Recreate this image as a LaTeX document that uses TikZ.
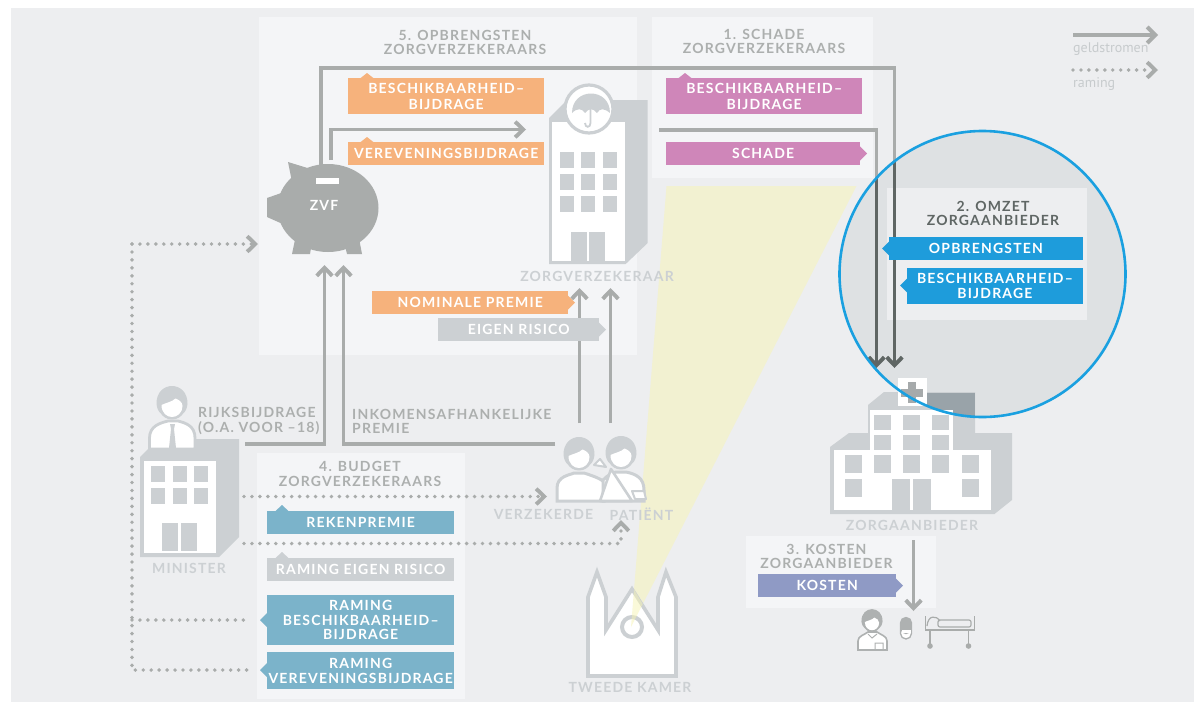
\documentclass[tikz,border=0pt]{standalone}
\usepackage{fontspec}
\usetikzlibrary{arrows.meta,calc}
\setmainfont{Lato}
\newfontfamily\latosp[LetterSpace=8.5]{Lato}
\newfontfamily\legendfont{PT Sans}
\definecolor{bgc}{HTML}{EDEEF0}
\definecolor{panelc}{HTML}{F4F5F7}
\definecolor{linec}{HTML}{A9ACAB}
\definecolor{darkc}{HTML}{5F6664}
\definecolor{iconc}{HTML}{CCD0D3}
\definecolor{titlec}{HTML}{ACAFAE}
\definecolor{orangec}{HTML}{F6B27C}
\definecolor{pinkc}{HTML}{CF86B9}
\definecolor{bluec}{HTML}{1E9CDB}
\definecolor{tealc}{HTML}{7BB3CA}
\definecolor{kostenc}{HTML}{8F9AC5}
\definecolor{ringc}{HTML}{1AA0E0}
\definecolor{circc}{HTML}{DEE1E3}
\definecolor{roofc}{HTML}{99A3A9}
\definecolor{beamc}{HTML}{F7F4B4}
\tikzset{
  panel/.style={fill=panelc,draw=none},
  flow/.style={draw=linec,line width=3.9pt,-{Straight Barb[length=8pt,width=15.5pt,line width=3.9pt]}},
  dotflow/.style={draw=linec,line width=3.9pt,line cap=round,dash pattern=on 0pt off 7.95pt},
  dottip/.style={-{Straight Barb[length=8pt,width=15.5pt,line width=3.9pt,line cap=butt]}},
  lab/.style={inner sep=0pt,align=center,font=\latosp\bfseries\fontsize{14}{14.5}\selectfont},
  wide/.style={font=\latosp\bfseries\fontsize{14}{16}\selectfont},
  lowtext/.style={text depth=-2pt},
  tagbox/.style={lab,text=white,anchor=north west,minimum height=#1},
  title/.style={lab,text=titlec},
  icontext/.style={lab,text=iconc},
}
\newcommand{\hd}[4]{% x y scale colour: head with hair
 \begin{scope}[shift={(#1,#2)},scale=#3]
  \fill[#4] (-15.5,2) .. controls (-16,-22) and (16,-22) .. (15.5,2) .. controls (15,7) and (13,10) .. (11.5,11) .. controls (9,15) and (5,17.5) .. (0,17.5) .. controls (-5,17.5) and (-9,15) .. (-11.5,11) .. controls (-13,10) and (-15,7) .. (-15.5,2) -- cycle;
  \fill[white] (-10.5,3) .. controls (-7,1) and (0,0) .. (3.5,-3.5) .. controls (7,-2) and (10.5,0) .. (10.5,4) .. controls (10.5,11) and (5,15) .. (0,15) .. controls (-5,15) and (-10.5,11) .. (-10.5,3) -- cycle;
 \end{scope}}
\begin{document}
\begin{tikzpicture}[x=1pt,y=-1pt]
\useasboundingbox (0,0) rectangle (1195,702);
\fill[white] (0,0) rectangle (1195,702);
\fill[bgc] (11,7.5) rectangle (1194,702);
% panels
\fill[panel] (259,17) rectangle (637,355);
\fill[panel] (652,17) rectangle (873,178);
\fill[panel] (257,453) rectangle (465,699);
\fill[panel] (745.5,536) rectangle (936,608);
% named connector ends
\coordinate (pigA) at (321,166);
\coordinate (pigB) at (331,160);
\coordinate (cA1) at (321,68);
\coordinate (cA2) at (894.5,68);
\coordinate (hospA) at (894.5,368);
\coordinate (cB1) at (331,129.5);
\coordinate (zvB) at (526,129.5);
\coordinate (zvC) at (659,130);
\coordinate (cC1) at (876.5,130);
\coordinate (hospC) at (876.5,368);
\coordinate (minR) at (245,444);
\coordinate (cD1) at (324.5,444);
\coordinate (pigD) at (324.5,265);
\coordinate (verzE) at (555,444);
\coordinate (cE1) at (343.5,444);
\coordinate (pigE) at (343.5,265);
\coordinate (verzF) at (579.5,423);
\coordinate (zvF) at (579.5,288);
\coordinate (patG) at (610.5,423);
\coordinate (zvG) at (610.5,288);
\coordinate (minH) at (244,496.5);
\coordinate (verzH) at (547,496.5);
\coordinate (minI) at (244,543.5);
\coordinate (cI1) at (621,543.5);
\coordinate (patI) at (621,520);
\coordinate (dotTop) at (132,244);
\coordinate (dotBot) at (132,670);
\coordinate (pigJ) at (258,244);
\coordinate (rbs) at (250,620);
\coordinate (dotMid) at (132,620);
\coordinate (rvs) at (250,670);
\coordinate (hospK) at (913.5,540);
\coordinate (caretK) at (913.5,611);
% beam
\fill[beamc,opacity=.5] (666.5,186) -- (856.5,186) -- (631,627) -- cycle;
% connectors (gray)
\draw[flow] (pigA) -- (cA1) -- (cA2) -- (hospA);
\draw[flow] (pigB) -- (cB1) -- (zvB);
\draw[flow] (zvC) -- (cC1) -- (hospC);
\draw[flow] (minR) -- (cD1) -- (pigD);
\draw[flow] (verzE) -- (cE1) -- (pigE);
\draw[flow] (verzF) -- (zvF);
\draw[flow] (patG) -- (zvG);
\draw[flow] (hospK) -- (caretK);
\draw[dotflow] (dotTop) -- ($(pigJ)+(-5,0)$);
\draw[dotflow] (dotTop) -- (dotBot) -- (rvs);
\draw[dotflow] (dotMid) -- (rbs);
\draw[dotflow] (minH) -- ($(verzH)+(-5,0)$);
\draw[dotflow] (minI) -- (cI1) -- ($(patI)+(0,5)$);
\draw[draw=linec,line width=0.1pt,dottip] (pigJ) ++(-2,0) -- (pigJ);
\draw[draw=linec,line width=0.1pt,dottip] (verzH) ++(-2,0) -- (verzH);
\draw[draw=linec,line width=0.1pt,dottip] (patI) ++(0,2) -- (patI);
% circle
\fill[circc] (982.5,274) circle [radius=143];
\fill[bgc] (887,188) rectangle (1087,320);
\begin{scope}
 \clip (982.5,274) circle [radius=143];
 \draw[flow,draw=darkc,-{Straight Barb[length=8pt,width=15.5pt,line width=3.9pt,color=darkc]}] (cA2) -- (hospA);
 \draw[flow,draw=darkc,-{Straight Barb[length=8pt,width=15.5pt,line width=3.9pt,color=darkc]}] (cC1) -- (hospC);
\end{scope}
% hospital
\fill[iconc] (830,514) -- (830,447) -- (849,433) -- (868,433) -- (868,405) -- (884,392) -- (975,392) -- (975,433) -- (1012,433) -- (1012,500) -- (994.5,514) -- cycle;
\begin{scope}
 \clip (982.5,274) circle [radius=143];
 \fill[roofc] (927,393) rectangle (975,420);
\end{scope}
\fill[white] (870,410) rectangle (953,450);
\fill[white] (834,450) rectangle (991,510);
\foreach \xx in {874,903,932}{\fill[iconc] (\xx,415) rectangle +(17,15); \fill[iconc] (\xx,435) rectangle +(17,15);}
\foreach \xx in {845,874,903,932,962}{\fill[iconc] (\xx,455) rectangle +(17,18);}
\foreach \xx in {845,962}{\fill[iconc] (\xx,479) rectangle +(17,18);}
\fill[iconc] (892,479) rectangle (910,510);
\fill[iconc] (913,479) rectangle (931,510);
\fill[white] (898,378) rectangle (927,406);
\fill[linec!80!roofc] (907.5,382) rectangle (916,403);
\fill[linec!80!roofc] (901,389) rectangle (923,397);
\draw[ringc,line width=2.6pt] (982.5,274) circle [radius=143];
% tags
\node[tagbox=35.7pt,wide,lowtext,fill=orangec,minimum width=196pt] (o1) at (348,78) {BESCHIKBAARHEID–\\BIJDRAGE};
\fill[orangec] (360,78.5) -- (367,73) -- (374,78.5) -- cycle;
\node[tagbox=22.7pt,lowtext,fill=orangec,minimum width=196pt] (o2) at (348,142) {VEREVENINGSBIJDRAGE};
\fill[orangec] (360,142.5) -- (367,137) -- (374,142.5) -- cycle;
\node[tagbox=22.7pt,fill=orangec,minimum width=196pt] (o3) at (372,291) {NOMINALE PREMIE};
\fill[orangec] (567.5,295) -- (575,302.5) -- (567.5,310) -- cycle;
\node[tagbox=22.7pt,fill=iconc,minimum width=161pt] (g1) at (438,318) {EIGEN RISICO};
\fill[iconc] (598.5,322) -- (606,329.5) -- (598.5,337) -- cycle;
\node[tagbox=35.7pt,wide,lowtext,fill=pinkc,minimum width=196pt] (p1) at (666,78) {BESCHIKBAARHEID–\\BIJDRAGE};
\fill[pinkc] (678,78.5) -- (685,73) -- (692,78.5) -- cycle;
\node[tagbox=22.7pt,lowtext,fill=pinkc,minimum width=194pt] (p2) at (666,142) {SCHADE};
\fill[pinkc] (859.5,146) -- (867,153.5) -- (859.5,161) -- cycle;
\node[tagbox=22.7pt,fill=bluec,minimum width=193.5pt] (b1) at (889,237) {OPBRENGSTEN};
\fill[bluec] (889.5,241) -- (882,248.5) -- (889.5,256) -- cycle;
\node[tagbox=35.7pt,fill=bluec,minimum width=175.5pt] (b2) at (907,268) {BESCHIKBAARHEID–\\BIJDRAGE};
\fill[bluec] (907.5,278) -- (900,285.5) -- (907.5,293) -- cycle;
\node[tagbox=22.7pt,lowtext,fill=tealc,minimum width=187pt] (t1) at (267,511) {REKENPREMIE};
\fill[tealc] (275,511.5) -- (282,505) -- (289,511.5) -- cycle;
\node[tagbox=22.7pt,fill=iconc,minimum width=187pt] (g2) at (267,558) {RAMING EIGEN RISICO};
\fill[iconc] (275,558.5) -- (282,552) -- (289,558.5) -- cycle;
\node[tagbox=50pt,fill=tealc,minimum width=187pt] (t2) at (267,595) {RAMING\\BESCHIKBAARHEID–\\BIJDRAGE};
\fill[tealc] (267.5,612.5) -- (260,620) -- (267.5,627.5) -- cycle;
\node[tagbox=37pt,fill=tealc,minimum width=187pt] (t3) at (267,652) {RAMING\\VEREVENINGSBIJDRAGE};
\fill[tealc] (267.5,662.5) -- (260,670) -- (267.5,677.5) -- cycle;
\node[tagbox=23pt,fill=kostenc,minimum width=138pt] (k1) at (758,574) {KOSTEN};
\fill[kostenc] (895.5,578) -- (903,585.5) -- (895.5,593) -- cycle;
% titles
\node[title] (tt5) at (465,42.5) {5. OPBRENGSTEN\\ZORGVERZEKERAARS};
\node[title] (tt1) at (764,41.5) {1. SCHADE\\ZORGVERZEKERAARS};
\node[title,text=darkc] (tt2) at (993,213.5) {2. OMZET\\ZORGAANBIEDER};
\node[title] (tt3) at (826.5,556.5) {3. KOSTEN\\ZORGAANBIEDER};
\node[title] (tt4) at (360,474) {4. BUDGET\\ZORGVERZEKERAARS};
\node[title,anchor=west,align=left] (rb) at (198,421) {RIJKSBIJDRAGE\\(O.A. VOOR –18)};
\node[title,anchor=west,align=left] (ip) at (352,421.5) {INKOMENSAFHANKELIJKE\\PREMIE};
% legend
\coordinate (lg1) at (1073,35); \coordinate (lg2) at (1158,35);
\coordinate (lg3) at (1073,70); \coordinate (lg4) at (1158,70);
\draw[flow,line width=4.8pt,-{Straight Barb[length=8pt,width=16pt,line width=4pt]}] (lg1) -- (lg2);
\draw[dotflow] (lg3) -- (1150,70);
\draw[draw=linec,line width=0.1pt,dottip] (1156,70) -- (lg4);
\node[anchor=west,inner sep=0pt,text=iconc!85!linec,font=\legendfont\fontsize{14}{14}\selectfont] (lgt1) at (1073,49) {geldstromen};
\node[anchor=west,inner sep=0pt,text=iconc!85!linec,font=\legendfont\fontsize{14}{14}\selectfont] (lgt2) at (1073,84.5) {raming};
% piggy
\fill[linec] (328,208) ellipse [x radius=50.5,y radius=44];
\fill[linec] (267,198) -- (267,217) -- (285,225) -- (287,191) -- cycle;
\fill[linec] (288,162) -- (292,182) -- (314,170) -- cycle;
\fill[linec] (296,235) -- (292,254) -- (310,254) -- (312,242) -- cycle;
\fill[linec] (344,242) -- (347,254) -- (362,254) -- (358,233) -- cycle;
\fill[white] (316,178) rectangle (339,184);
\node[lab,text=white] (zvf) at (324,205) {ZVF};
% zorgverzekeraar
\fill[iconc] (549,264) -- (549,118) -- (567,100) -- (647.7,100) -- (647.7,243) -- (625.7,264) -- cycle;
\fill[white] (552,121.7) rectangle (625,260.7);
\foreach \yy in {152,174,196}{\foreach \xx in {560,581,603}{\fill[iconc] (\xx,\yy) rectangle +(14,15.7);}}
\fill[iconc] (571,232) rectangle (587.3,260.7);
\fill[iconc] (589,232) rectangle (605,260.7);
\filldraw[fill=white,draw=iconc,line width=3.2pt] (589,109) circle [radius=24];
\fill[iconc] (572,113) .. controls (572,87) and (610,87) .. (610,113) .. controls (604,108) and (600,108) .. (597,113) .. controls (593,108) and (589,108) .. (585,113) .. controls (582,108) and (577,108) .. (572,113) -- cycle;
\draw[iconc,line width=1.8pt] (590.5,108) -- (590.5,123) .. controls (590.5,128) and (585,128) .. (585,123);
\node[icontext] (zvl) at (597,276) {ZORGVERZEKERAAR};
% minister
\fill[iconc] (140,557) -- (140,457) -- (158,439) -- (239,439) -- (239,537) -- (219,557) -- cycle;
\fill[white] (144,461) rectangle (216,553);
\foreach \yy in {466,488}{\foreach \xx in {151,173,194}{\fill[iconc] (\xx,\yy) rectangle +(14,16);}}
\fill[iconc] (162,523) rectangle (178,551);
\fill[iconc] (181,523) rectangle (197,551);
\filldraw[fill=white,draw=iconc,line width=2.8pt] (149.5,449) -- (149.5,438) .. controls (149.5,426) and (160,423) .. (168,421) -- (178,421) .. controls (186,423) and (195,426) .. (195,438) -- (195,449) -- cycle;
\fill[iconc] (170,424) -- (175,424) -- (174,429) -- (176,448) -- (169,448) -- (171,429) -- cycle;
\hd{172}{402}{1}{iconc}
\node[icontext] (minl) at (189,568.5) {MINISTER};
% verzekerde + patient
\filldraw[fill=white,draw=iconc,line width=3pt] (557,501) -- (557,488) .. controls (557,476) and (570,475) .. (574,473) -- (584,473) .. controls (590,475) and (600,478) .. (604,482) -- (604,501) -- cycle;
\hd{579}{453}{1}{iconc}
\filldraw[fill=white,draw=iconc,line width=3pt] (603,501) -- (603,480) .. controls (608,475) and (612,473) .. (616,472) -- (626,472) .. controls (636,474) and (644,478) .. (644,490) -- (644,501) -- cycle;
\hd{621}{452}{1}{iconc}
\filldraw[fill=white,draw=iconc,line width=2.6pt,line join=round] (611,469) -- (600,501) -- (632,501) -- cycle;
\filldraw[fill=white,draw=iconc,line width=2pt,line join=round] (594,465) -- (600,459) -- (606,467) -- cycle;
\filldraw[fill=white,draw=iconc,line width=2pt,line join=round] (632,491) -- (644,491) -- (646,499) -- (635,499) -- cycle;
\node[icontext] (vzl) at (543.5,514) {VERZEKERDE};
\node[icontext] (ptl) at (641.5,514) {PATIËNT};
% church
\filldraw[fill=white,draw=iconc,line width=3.6pt,line join=miter,miter limit=4] (588,676) -- (588,597) -- (597,572) -- (606,597) -- (606,630) -- (632,589) -- (658,630) -- (658,597) -- (666,572) -- (676,597) -- (676,676) -- cycle;
\draw[iconc,line width=4pt] (632,627) circle [radius=10];
\begin{scope}
 \clip (588,676) -- (588,597) -- (597,572) -- (606,597) -- (606,630) -- (632,586) -- (658,630) -- (658,597) -- (666,572) -- (676,597) -- (676,676) -- cycle;
 \fill[beamc,opacity=.5] (666.5,186) -- (856.5,186) -- (631,627) -- cycle;
\end{scope}
\node[icontext] (tkl) at (630,687) {TWEEDE KAMER};
\node[icontext] (zal) at (912,525) {ZORGAANBIEDER};
% doctor
\filldraw[fill=white,draw=linec!85!iconc,line width=1.6pt] (858,650) -- (858,641) .. controls (858,636) and (864,635) .. (868,632) -- (877,632) .. controls (881,635) and (887,636) .. (887,641) -- (887,650) -- cycle;
\hd{872}{620}{.68}{linec!85!iconc}
\draw[linec!85!iconc,line width=1pt] (868,634) -- (872,638) -- (877,634) (875,643) rectangle (883,650);
% pill
\filldraw[fill=white,draw=linec!85!iconc,line width=1.3pt,rounded corners=5.5pt] (900.5,617.5) rectangle (911.5,639);
\fill[linec!85!iconc,rounded corners=5pt] (900.5,617.5) rectangle (911.5,634);
\fill[white] (901.5,630) rectangle (910.5,633);
% bed
\draw[linec,line width=1.8pt] (925.5,616) -- (925.5,630) -- (974.5,630) -- (974.5,616);
\draw[linec,line width=1.8pt] (930,630) -- (930,645) (968.5,630) -- (968.5,645);
\fill[linec] (930,646) circle [radius=2.8] (968.5,646) circle [radius=2.8];
\draw[linec,line width=1.2pt,rounded corners=2pt] (938,620) rectangle (971,627);
\draw[linec,line width=1.2pt] (927,626) .. controls (928,615) and (936,615) .. (940,621);
\end{tikzpicture}
\end{document}
